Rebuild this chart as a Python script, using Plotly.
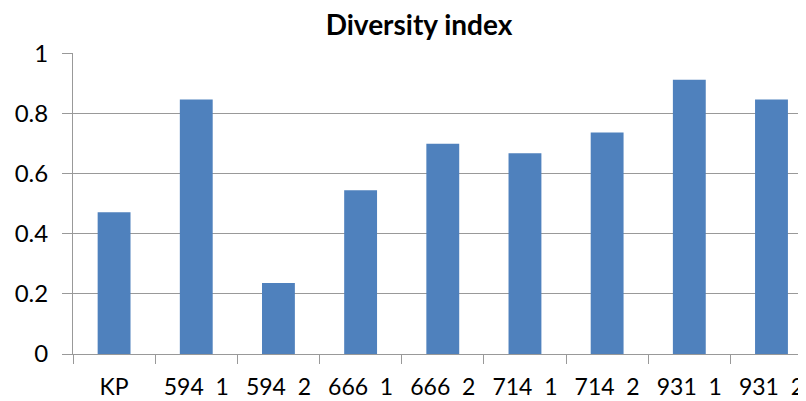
import plotly.graph_objects as go

categories = ["KP", "594\u00a0\u00a01", "594\u00a0\u00a02", "666\u00a0\u00a01", "666\u00a0\u00a02",
              "714\u00a0\u00a01", "714\u00a0\u00a02", "931\u00a0\u00a01", "931\u00a0\u00a02"]
diversity = [0.472, 0.847, 0.236, 0.545, 0.70, 0.668, 0.737, 0.913, 0.847]
y_ticks = [0, 0.2, 0.4, 0.6, 0.8, 1]
y_labels = ["0", "0.2", "0.4", "0.6", "0.8", "1"]

FontName = "Lato, Open Sans, sans-serif"
GridCol = "#999999"

# page body has an 8px margin, so the figure is sized to fit the window after it
W, H = 798, 393

fig = go.Figure()
fig.add_trace(go.Bar(x=categories, y=diversity, width=0.4,
                     marker=dict(color="#4F81BD", line=dict(width=0))))

fig.update_layout(
    width=W, height=H,
    margin=dict(l=65, r=0, t=45, b=47),
    plot_bgcolor="white", paper_bgcolor="white",
    showlegend=False,
    title=dict(text="<b>Diversity index</b>", x=411 / W, xanchor="center",
               y=1 - 17 / H, yanchor="middle",
               font=dict(family=FontName, size=28, color="black")),
    font=dict(family=FontName, size=23, color="black"),
)

fig.update_xaxes(range=[-0.5, 8.42], showgrid=False, showline=True, linecolor=GridCol,
                 linewidth=1, ticks="outside", tickson="boundaries", ticklen=9,
                 tickcolor=GridCol, automargin=False, ticklabelstandoff=12,
                 tickfont=dict(size=23, color="black"))
fig.update_yaxes(range=[0, 1.002], tickvals=y_ticks, ticktext=y_labels,
                 showgrid=True, gridcolor=GridCol, gridwidth=1,
                 showline=True, linecolor=GridCol, linewidth=1,
                 ticks="outside", ticklen=10, tickcolor=GridCol, zeroline=False,
                 automargin=False, ticklabelstandoff=9,
                 tickfont=dict(size=24, color="black"))

fig.write_html("out.html")
